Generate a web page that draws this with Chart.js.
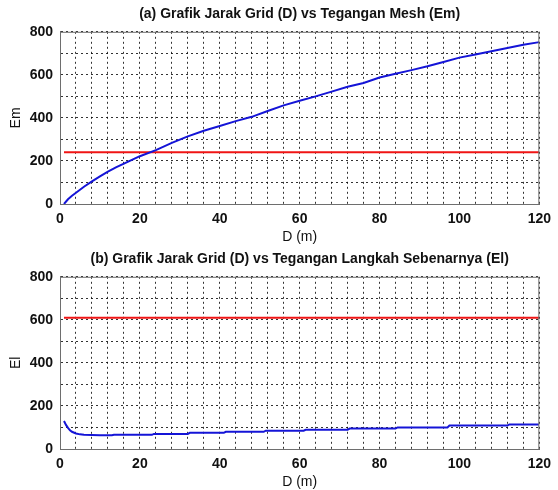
<!DOCTYPE html>
<html lang="id">
  <head>
    <meta charset="UTF-8" />
    <title>Grafik Jarak Grid</title>
    <script src="https://cdn.jsdelivr.net/npm/chart.js"></script>
    <style>
      body {
        margin: 0;
        padding: 0;
        background: #fff;
        font-family: "Liberation Sans", Arial, sans-serif;
      }
      .panel {
        position: relative;
        width: 558px;
        height: 245px;
      }
    </style>
  </head>
  <body>
    <div class="panel"><canvas id="chartMesh"></canvas></div>
    <div class="panel"><canvas id="chartStep"></canvas></div>

    <script>
      // (a) Tegangan Mesh Em vs jarak grid D
      const meshD = [1, 2, 3, 4, 6, 8, 10, 12, 14, 16, 18, 20, 24, 28, 32, 36, 40, 44, 48, 52, 56, 60,
        64, 68, 72, 76, 80, 84, 88, 92, 96, 100, 104, 108, 112, 116, 120];
      const meshEm = [0, 22, 38, 52, 80, 105, 128, 150, 170, 188, 205, 222, 250, 284, 314, 340, 362, 385, 405, 432, 458, 480,
        500, 522, 545, 562, 588, 605, 622, 640, 660, 680, 695, 710, 725, 740, 752];
      const meshLimitD = [1, 120];
      const meshLimit = [240, 240];

      // (b) Tegangan langkah sebenarnya El vs jarak grid D
      const stepD = [1, 1.5, 2, 2.5, 3, 4, 5, 6, 8, 10, 13, 13.5, 23, 23.5, 32, 32.5, 41, 41.5, 51, 51.5,
        61, 61.5, 72, 72.5, 84, 84.5, 97, 97.5, 112, 112.5, 120];
      const stepEl = [130, 112, 98, 87, 80, 72, 68, 66, 65, 64, 64, 66, 66, 70, 70, 75, 75, 80, 80, 85,
        85, 89, 89, 95, 95, 100, 100, 109, 109, 114, 114];
      const stepLimitD = [1, 120];
      const stepLimit = [610, 610];

      const xTicks = { min: 0, max: 120, step: 4, labelEvery: 20 };
      const yTicks = { min: 0, max: 800, step: 100, labelEvery: 200 };

      const pts = (xs, ys) => xs.map((x, i) => ({ x: x, y: ys[i] }));

      // kotak sumbu ala MATLAB
      const boxPlugin = {
        id: 'axesBox',
        afterDraw(chart) {
          const a = chart.chartArea;
          const ctx = chart.ctx;
          ctx.save();
          ctx.strokeStyle = '#6e6e6e';
          ctx.lineWidth = 1;
          ctx.strokeRect(a.left + 0.5, a.top + 0.5, a.right - a.left - 1, a.bottom - a.top);
          ctx.restore();
        }
      };

      function makeChart(id, title, yTitle, curve, limit) {
        const gridStyle = {
          color: 'rgba(0,0,0,0.8)',
          lineWidth: 1,
          drawTicks: false
        };
        new Chart(document.getElementById(id), {
          type: 'line',
          data: {
            datasets: [
              {
                data: curve,
                borderColor: 'rgb(20,20,215)',
                borderWidth: 2,
                pointRadius: 0,
                tension: 0
              },
              {
                data: limit,
                borderColor: 'rgb(240,20,20)',
                borderWidth: 2,
                pointRadius: 0
              }
            ]
          },
          options: {
            responsive: true,
            maintainAspectRatio: false,
            animation: false,
            layout: { padding: { left: 0, right: 13, top: 0, bottom: 0 } },
            plugins: {
              legend: { display: false },
              tooltip: { enabled: false },
              title: {
                display: true,
                text: title,
                fullSize: false,
                color: '#111',
                font: { family: 'Liberation Sans', size: 14, weight: 'bold' },
                padding: { top: 6, bottom: 9 }
              }
            },
            scales: {
              x: {
                type: 'linear',
                min: xTicks.min,
                max: xTicks.max,
                grid: gridStyle,
                border: { display: true, color: '#6e6e6e', dash: [2, 3] },
                ticks: {
                  stepSize: xTicks.step,
                  autoSkip: false,
                  maxRotation: 0,
                  padding: 7,
                  color: '#111',
                  font: { family: 'Liberation Sans', size: 14, weight: 'bold' },
                  callback: v => (v % xTicks.labelEvery === 0 ? v : '')
                },
                title: {
                  display: true,
                  text: 'D (m)',
                  color: '#111',
                  font: { family: 'Liberation Sans', size: 14 },
                  padding: { top: 2, bottom: -1 }
                },
                afterFit: s => { s.height = 41; }
              },
              y: {
                min: yTicks.min,
                max: yTicks.max,
                grid: gridStyle,
                border: { display: true, color: '#6e6e6e', dash: [2, 3] },
                ticks: {
                  stepSize: yTicks.step,
                  autoSkip: false,
                  padding: 7,
                  color: '#111',
                  font: { family: 'Liberation Sans', size: 14, weight: 'bold' },
                  callback: v => (v % yTicks.labelEvery === 0 ? v : '')
                },
                title: {
                  display: true,
                  text: yTitle,
                  color: '#111',
                  font: { family: 'Liberation Sans', size: 14 },
                  padding: { top: 8, bottom: 2 }
                },
                afterFit: s => { s.width = 60; }
              }
            }
          },
          plugins: [boxPlugin]
        });
      }

      makeChart('chartMesh', '(a) Grafik Jarak Grid (D) vs Tegangan Mesh (Em)', 'Em',
        pts(meshD, meshEm), pts(meshLimitD, meshLimit));
      makeChart('chartStep', '(b) Grafik Jarak Grid (D) vs Tegangan Langkah Sebenarnya (El)', 'El',
        pts(stepD, stepEl), pts(stepLimitD, stepLimit));
    </script>
  </body>
</html>
